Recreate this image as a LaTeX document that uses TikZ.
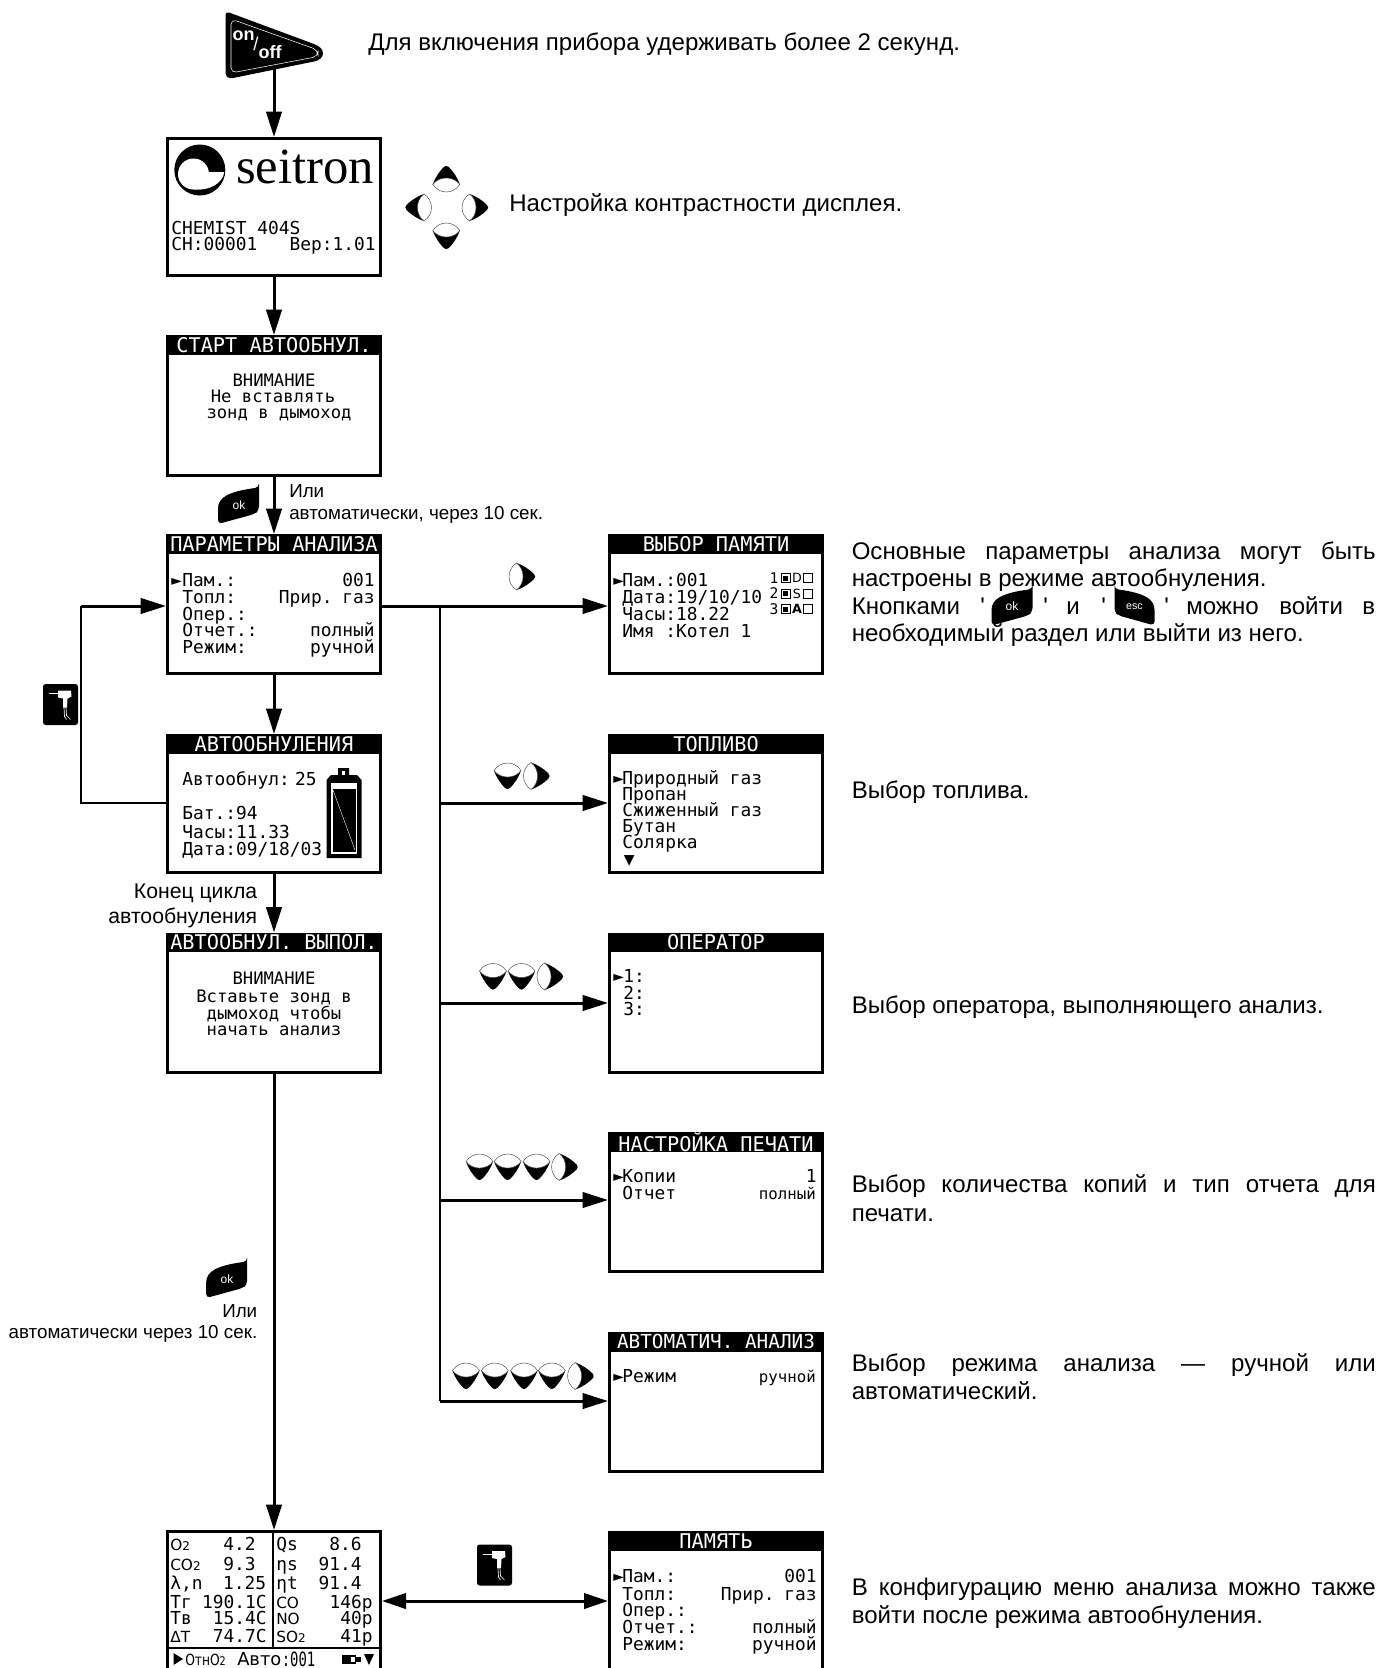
\documentclass[tikz,border=0pt]{standalone}
\usepackage{fontspec}
\setmainfont{Liberation Sans}
\newfontfamily\scr{DejaVu Sans Mono}
\newfontfamily\djs{DejaVu Sans}
\newfontfamily\lsf{Liberation Serif}
\newfontfamily\qf{Liberation Sans}
\usetikzlibrary{arrows.meta,calc}
\tikzset{
  px/.style={x=0.75pt,y=-0.75pt},
  screen/.style={draw=black,fill=white,line width=2.25pt,inner sep=0pt,anchor=north west,minimum width=159.75pt},
  rscreen/.style={draw=black,fill=white,line width=2.25pt,inner sep=0pt,anchor=north west,minimum width=159.75pt},
  titlebar/.style={fill=black,text=white,inner sep=0pt,anchor=north,minimum width=162pt,minimum height=14.5pt,font=\fontsize{15.2}{15}\selectfont\scr},
  rtitlebar/.style={titlebar},
  sl/.style={inner sep=0pt,anchor=west,text height=9.6pt,text depth=0pt,font=\fontsize{13.4}{13}\selectfont\scr},
  sr/.style={sl,anchor=east},
  sc/.style={sl,anchor=center,font=\fontsize{12.9}{13}\selectfont\scr},
  ml/.style={inner sep=0pt,anchor=west,text height=10.5pt,text depth=0pt,font=\fontsize{18.05}{20}\selectfont},
  mr/.style={ml,anchor=east},
  nl/.style={inner sep=0pt,anchor=west,text height=10pt,text depth=0pt,font=\fontsize{14.1}{16}\selectfont},
  nr/.style={nl,anchor=east},
  kl/.style={inner sep=0pt,anchor=east,text height=11pt,text depth=0pt,font=\fontsize{15.9}{18}\selectfont},
  ds/.style={inner sep=0pt,anchor=west,text height=10pt,text depth=0pt,font=\fontsize{11.5}{12}\selectfont\djs},
  arr/.style={line width=2.25pt,-{Triangle[length=19pt,width=11.5pt]}},
  arrb/.style={line width=2.25pt,{Triangle[length=18pt,width=11.5pt]}-{Triangle[length=18pt,width=11.5pt]}},
  thinl/.style={line width=0.85pt},
  rbtn/.pic={
    \fill[black] (-5.5,-13.5) .. controls (2,-11) and (8,-6.5) .. (12,-2.5) .. controls (13.5,-1) and (13.5,1) .. (12,2.5) .. controls (8,6.5) and (2,11) .. (-5.5,13.5) -- cycle;
    \filldraw[fill=white,draw=black!70,line width=0.35pt] (-5.5,-13.5) .. controls (-15.5,-7) and (-15.5,7) .. (-5.5,13.5) .. controls (3.2,7) and (3.2,-7) .. (-5.5,-13.5) -- cycle;
  },
  okbtn/.pic={
    \fill[black,rounded corners=3pt] (20.5,-18) -- (20.5,5) -- (16,8.5) -- (-20.5,18.5) -- (-20.5,7) .. controls (-20.5,-8) and (-10,-14) .. (20.5,-18) -- cycle;
  },
  escbtn/.pic={
    \fill[black,rounded corners=3pt] (-20,-18) -- (-20,5) -- (-16,8.5) -- (20,18.5) -- (20,7) .. controls (20,-8) and (10,-14) .. (-20,-18) -- cycle;
  },
  probe/.pic={
    \fill[black,rounded corners=2pt] (-17.5,-20.5) rectangle (17.5,20.5);
    \fill[white] (-2.5,-14) -- (10.5,-14) -- (11,-8) -- (7,-6) -- (6.5,3) -- (2.5,3) -- (2.5,-6) -- (-2.5,-7) -- cycle;
    \draw[white,line width=0.6pt] (-12,-11) -- (-2,-11);
    \draw[white,line width=0.5pt] (3.5,3) -- (4,12) -- (6,15) (5.5,3) -- (6,11) -- (10,15);
  },
  smsq/.pic={
    \draw[black,line width=0.6pt] (-4.5,-4.5) rectangle (4.5,4.5);
    \fill[black] (-2.5,-2.5) rectangle (2.5,2.5);
  },
  emsq/.pic={
    \draw[black,line width=0.6pt] (-4.5,-4.5) rectangle (4.5,4.5);
  },
}
\newcommand{\SL}[4]{\node[sl] (#1) at (#2,#3) {#4};}
\newcommand{\SR}[4]{\node[sr] (#1) at (#2,#3) {#4};}
\newcommand{\SC}[4]{\node[sc] (#1) at (#2,#3) {#4};}
\newcommand{\ML}[4]{\node[ml] (#1) at (#2,#3) {#4};}
\newcommand{\MR}[4]{\node[mr] (#1) at (#2,#3) {#4};}
\newcommand{\MJ}[4]{\node[ml] (#1) at (#2,#3) {\makebox[393pt][s]{#4}};}
\newcommand{\DS}[4]{\node[ds] (#1) at (#2,#3) {#4};}
\newcommand{\mktri}[2]{\fill[black] (#1-4.5,#2-6) -- (#1+5,#2) -- (#1-4.5,#2+6) -- cycle;}
\begin{document}
\begin{tikzpicture}[px]
\clip (0,0) rectangle (1381,1668);
\fill[white] (0,0) rectangle (1381,1668);

% thin bus and loop
\coordinate (b1) at (440,606);
\coordinate (b2) at (440,803);
\coordinate (b3) at (440,1003);
\coordinate (b4) at (440,1200);
\coordinate (b5) at (440,1401);
\coordinate (l1) at (81,803);
\coordinate (l2) at (81,606);
\coordinate (m1) at (495,1601);

% on/off
\node[inner sep=0pt,minimum size=1pt] (onoff) at (274,67) {};
\fill[black] (229,12.5) -- (314,44) .. controls (326,48) and (326,59) .. (314,61.5) -- (233,78) .. controls (227,79) and (225.5,76) .. (225.5,71) -- (225.5,17) .. controls (225.5,13) and (226.5,11.5) .. (229,12.5) -- cycle;
\draw[white,line width=0.4pt,rounded corners=4pt] (231,19) -- (318,50) -- (318,56.5) -- (231,73) -- cycle;
\node[inner sep=0pt,text=white,font=\fontsize{13.5}{14}\selectfont\bfseries] (on) at (243.5,36) {on};
\node[inner sep=0pt,text=white,font=\fontsize{14}{15}\selectfont] (sl) at (256,44) {/};
\node[inner sep=0pt,text=white,font=\fontsize{13.5}{14}\selectfont\bfseries] (off) at (270,52) {off};

% screens
\node[screen,minimum height=102.75pt] (seit) at (166,137) {};
\node[screen,minimum height=104.25pt] (start) at (166,335) {};
\node[titlebar] (startt) at (274,335) {СТАРТ АВТООБНУЛ.};
\node[screen,minimum height=103.75pt] (par) at (166,534) {};
\node[titlebar] (part) at (274,534) {ПАРАМЕТРЫ АНАЛИЗА};
\node[screen,minimum height=102.75pt] (az) at (166,734) {};
\node[titlebar] (azt) at (274,734) {АВТООБНУЛЕНИЯ};
\node[screen,minimum height=103.75pt] (azd) at (166,932.5) {};
\node[titlebar] (azdt) at (274,932.5) {АВТООБНУЛ. ВЫПОЛ.};
\node[screen,minimum height=104.5pt] (data) at (166,1530) {};

\node[rscreen,minimum height=103.75pt] (vyb) at (608,534) {};
\node[rtitlebar] (vybt) at (716,534) {ВЫБОР ПАМЯТИ};
\node[rscreen,minimum height=102.75pt] (top) at (608,734) {};
\node[rtitlebar] (topt) at (716,734) {ТОПЛИВО};
\node[rscreen,minimum height=103.75pt] (op) at (608,932.5) {};
\node[rtitlebar] (opt) at (716,932.5) {ОПЕРАТОР};
\node[rscreen,minimum height=103.75pt] (pr) at (608,1132) {};
\node[rtitlebar] (prt) at (716,1132) {НАСТРОЙКА ПЕЧАТИ};
\node[rscreen,minimum height=103.75pt] (au) at (608,1332) {};
\node[rtitlebar,font=\fontsize{14.5}{15}\selectfont\scr] (aut) at (716,1332) {АВТОМАТИЧ. АНАЛИЗ};
\node[rscreen,minimum height=104.5pt] (mem) at (608,1531) {};
\node[rtitlebar] (memt) at (716,1531) {ПАМЯТЬ};

% connectors
\draw[arr] (onoff) -- (seit.north);
\draw[arr] (seit.south) -- (start.north);
\draw[arr] (start.south) -- (par.north);
\draw[arr] (par.south) -- (az.north);
\draw[arr] (az.south) -- (azd.north);
\draw[arr] (azd.south) -- (data.north);
\draw[arr] (b1 -| par.east) -- (b1 -| vyb.west);
\draw[thinl] (b1) -- (b5);
\draw[arr] (b2) -- (b2 -| top.west);
\draw[arr] (b3) -- (b3 -| op.west);
\draw[arr] (b4) -- (b4 -| pr.west);
\draw[arr] (b5) -- (b5 -| au.west);
\draw[thinl] (l1 -| az.west) -- (l1) -- (l2);
\draw[arr] (l2) -- (l2 -| par.west);
\draw[arrb] (m1 -| data.east) -- (m1 -| mem.west);

% seitron logo
\fill[black] (199.8,170) circle (25.5);
\fill[white] (193.5,174) circle (15.5);
\fill[white] (208,172) -- (224.2,172) .. controls (223,184) and (208,191) .. (193.5,189.5) -- (193.5,174) -- cycle;
\node[inner sep=0pt,anchor=base west,font=\fontsize{38}{38}\selectfont\lsf] (seitron) at (236,183) {seitron};
\SL{s1a}{171}{228.5}{CHEMIST 404S}
\SL{s1b}{171}{244}{CH:00001}
\SR{s1c}{376}{244}{Вер:1.01}

% start
\SC{s2a}{274}{380}{ВНИМАНИЕ}
\SC{s2b}{273}{396.5}{Не вставлять}
\SC{s2c}{279}{412.5}{зонд в дымоход}

% params
\SL{p0}{171}{580.5}{►}
\SL{p1}{182}{580.5}{Пам.:}
\SL{p2}{182}{597}{Топл:}
\SL{p3}{182}{614}{Опер.:}
\SL{p4}{182}{630.5}{Отчет.:}
\SL{p5}{182}{647}{Режим:}
\SR{p6}{375}{580.5}{001}
\SR{p7}{375}{597}{Прир.\hspace{0.55em}газ}
\SR{p8}{375}{630.5}{полный}
\SR{p9}{375}{647}{ручной}

% autozero
\SL{a1}{182}{779}{Автообнул:\hspace{0.3em}25}
\SL{a2}{182}{813}{Бат.:94}
\SL{a3}{182}{832}{Часы:11.33}
\SL{a4}{182}{849}{Дата:09/18/03}
\fill[black] (326.5,780) -- (331,775) -- (338,775) -- (338,768) -- (349,768) -- (349,775) -- (357,775) -- (361.5,780) -- (361.5,858) -- (326.5,858) -- cycle;
\fill[white] (342,771) rectangle (345,775);
\fill[white] (331,783) rectangle (357,854);
\fill[black] (332.5,789) rectangle (355.5,852);
\draw[white,line width=0.3pt] (333,790) -- (355,850);

% autozero done
\SC{d1}{274}{978}{ВНИМАНИЕ}
\SC{d2}{274}{995.7}{Вставьте зонд в}
\SC{d3}{274}{1013}{дымоход чтобы}
\SC{d4}{274}{1029}{начать анализ}

% memory selection
\SL{v0}{613}{580}{►}
\SL{v1}{622}{580}{Пам.:001}
\SL{v2}{622}{597}{Дата:19/10/10}
\SL{v3}{622}{614.5}{Часы:18.22}
\SL{v4}{622}{630.7}{Имя :Котел 1}
\node[inner sep=0pt,font=\fontsize{11}{12}\selectfont\scr] (i1) at (774,578) {1};
\node[inner sep=0pt,font=\fontsize{11}{12}\selectfont\scr] (i2) at (774,593.5) {2};
\node[inner sep=0pt,font=\fontsize{11}{12}\selectfont\scr] (i3) at (774,609) {3};
\pic at (785.5,578) {smsq};
\pic at (785.5,593.5) {smsq};
\pic at (785.5,609) {smsq};
\node[inner sep=0pt,font=\fontsize{9.5}{12}\selectfont\djs] (iD) at (797,578) {D};
\node[inner sep=0pt,font=\fontsize{9.5}{12}\selectfont\djs] (iS) at (797,593.5) {S};
\node[inner sep=0pt,font=\fontsize{9.5}{12}\selectfont\djs\bfseries] (iA) at (797,609) {A};
\pic at (808,578) {emsq};
\pic at (808,593.5) {emsq};
\pic at (808,609) {emsq};

% fuel
\SL{f0}{613}{778.5}{►}
\SL{f1}{622}{778.5}{Природный газ}
\SL{f2}{622}{794.5}{Пропан}
\SL{f3}{622}{810.5}{Сжиженный газ}
\SL{f4}{622}{826.5}{Бутан}
\SL{f5}{622}{842.5}{Солярка}
\SL{f6}{623.5}{859}{▼}

% operator
\SL{o0}{613}{976.5}{►}
\SL{o1}{623}{976.5}{1:}
\SL{o2}{623}{993}{2:}
\SL{o3}{623}{1009}{3:}

% print
\SL{r0}{613}{1176.5}{►}
\SL{r1}{622}{1176.5}{Копии}
\SL{r2}{622}{1193}{Отчет}
\SR{r3}{817}{1176.5}{1}
\node[sr,font=\fontsize{11.8}{13}\selectfont\scr] (r4) at (816,1193) {полный};

% auto
\SL{u0}{613}{1376.5}{►}
\SL{u1}{622}{1376.5}{Режим}
\node[sr,font=\fontsize{11.8}{13}\selectfont\scr] (u2) at (816,1376.5) {ручной};

% memory
\SL{n0}{613}{1576}{►}
\SL{n1}{622}{1576}{Пам.:}
\SL{n2}{622}{1594}{Топл:}
\SL{n3}{622}{1610}{Опер.:}
\SL{n4}{622}{1626.6}{Отчет.:}
\SL{n5}{622}{1643.7}{Режим:}
\SR{n6}{817}{1576}{001}
\SR{n7}{817}{1594}{Прир.\hspace{0.55em}газ}
\SR{n8}{817}{1626.6}{полный}
\SR{n9}{817}{1643.7}{ручной}

% data panel
\draw[line width=1.2pt] (273,1530) -- (273,1648);
\draw[line width=1.2pt] (166,1648) -- (382,1648);
\DS{g1}{170}{1544}{O\raisebox{-0.1pt}{\fontsize{9}{10}\selectfont 2}}
\DS{g2}{170}{1564}{CO\raisebox{-0.1pt}{\fontsize{9}{10}\selectfont 2}}
\SL{g3}{170}{1583}{λ,n}
\SL{g4}{170}{1602}{Тг}
\SL{g5}{170}{1618}{Тв}
\DS{g6}{170}{1636}{ΔT}
\SR{h1}{256}{1544}{4.2}
\SR{h2}{256}{1564}{9.3}
\SR{h3}{266.5}{1583}{1.25}
\SR{h4}{267}{1602}{190.1C}
\SR{h5}{267}{1618}{15.4C}
\SR{h6}{267}{1636}{74.7C}
\SL{q1}{276}{1544}{Qs}
\SL{q2}{276}{1564}{ηs}
\SL{q3}{276}{1583}{ηt}
\DS{q4}{276}{1602}{CO}
\DS{q5}{276}{1618}{NO}
\DS{q6}{276}{1636}{SO\raisebox{-0.1pt}{\fontsize{9}{10}\selectfont 2}}
\SR{w1}{362}{1544}{8.6}
\SR{w2}{362}{1564}{91.4}
\SR{w3}{362}{1583}{91.4}
\SR{w4}{373}{1602}{146p}
\SR{w5}{373}{1618}{40p}
\SR{w6}{373}{1636}{41p}
\mktri{178}{1659}
\DS{x1}{185}{1659}{\scalebox{0.8}[1]{ОтнО{\fontsize{9}{10}\selectfont 2}}}
\node[ds,font=\fontsize{13.4}{14}\selectfont\djs] (x2) at (237,1659) {Авто};
\node[sl,text height=10.5pt] (x3) at (281.5,1659) {\scalebox{0.78}[1.1]{:001}};
\fill[black] (342,1655) rectangle (356,1664);
\fill[white] (351,1657) rectangle (355,1662);
\fill[black] (356,1657) rectangle (361,1662);
\fill[black] (364,1654) -- (374,1654) -- (369,1665) -- cycle;

% direction icons
\pic[rotate=90] at (446.3,179) {rbtn};
\pic[rotate=180] at (418.5,207.5) {rbtn};
\pic at (475,207.5) {rbtn};
\pic[rotate=-90] at (446.3,236) {rbtn};

\pic at (522,576.5) {rbtn};
\pic[rotate=-90] at (507.5,776) {rbtn};
\pic at (536.5,776) {rbtn};
\pic[rotate=-90] at (493,976.5) {rbtn};
\pic[rotate=-90] at (521.5,976.5) {rbtn};
\pic at (550,976.5) {rbtn};
\pic[rotate=-90] at (479.5,1167) {rbtn};
\pic[rotate=-90] at (507.6,1167) {rbtn};
\pic[rotate=-90] at (536.5,1167) {rbtn};
\pic at (564.6,1167) {rbtn};
\pic[rotate=-90] at (466,1376) {rbtn};
\pic[rotate=-90] at (494.8,1376) {rbtn};
\pic[rotate=-90] at (524,1376) {rbtn};
\pic[rotate=-90] at (551.8,1376) {rbtn};
\pic at (580.6,1376) {rbtn};

% keys
\pic at (238.5,505.5) {okbtn};
\node[inner sep=0pt,text=white,font=\fontsize{9}{10}\selectfont] (ok1) at (239,505) {ok};
\pic at (226.7,1279.5) {okbtn};
\node[inner sep=0pt,text=white,font=\fontsize{9}{10}\selectfont] (ok2) at (227,1279) {ok};
\pic at (1012,607) {okbtn};
\node[inner sep=0pt,text=white,font=\fontsize{9}{10}\selectfont] (ok3) at (1012,606) {ok};
\pic at (1134.5,607) {escbtn};
\node[inner sep=0pt,text=white,font=\fontsize{8}{10}\selectfont] (esc1) at (1134.5,607) {esc};
\pic at (60.5,704.5) {probe};
\pic at (494.5,1565) {probe};

% captions
\ML{c1}{368}{43}{Для включения прибора удерживать более 2 секунд.}
\ML{c2}{509}{204}{Настройка контрастности дисплея.}
\node[nl] (c3) at (289,491) {Или};
\node[nl] (c4) at (289,513) {автоматически, через 10 сек.};
\node[kl] (c5) at (257.5,891.4) {Конец цикла};
\node[kl] (c6) at (257.5,915.7) {автообнуления};
\node[nr] (c7) at (257.5,1311) {Или};
\node[nr] (c8) at (257.5,1332) {автоматически через 10 сек.};
\MJ{c9}{851.5}{552}{Основные параметры анализа могут быть}
\ML{c10}{851.5}{579}{настроены в режиме автообнуления.}
\ML{c11}{851.5}{607}{Кнопками}
\ML{c12}{980}{607}{\qf '}
\ML{c13}{1043}{607}{\qf '}
\ML{c14}{1066}{607}{и}
\ML{c15}{1101}{607}{\qf '}
\ML{c16}{1164}{607}{\qf '}
\ML{c17}{1186}{607}{можно}
\ML{c18}{1279}{607}{войти}
\MR{c19}{1375.5}{607}{в}
\ML{c20}{851.5}{634.3}{необходимый раздел или выйти из него.}
\ML{c21}{851.5}{791.5}{Выбор топлива.}
\ML{c22}{851.5}{1006.7}{Выбор оператора, выполняющего анализ.}
\MJ{c23}{851.5}{1185}{Выбор количества копий и тип отчета для}
\ML{c24}{851.5}{1214.6}{печати.}
\MJ{c25}{851.5}{1364.5}{Выбор режима анализа — ручной или}
\ML{c26}{851.5}{1392.5}{автоматический.}
\MJ{c27}{851.5}{1588}{В конфигурацию меню анализа можно также}
\ML{c28}{851.5}{1616.5}{войти после режима автообнуления.}
\end{tikzpicture}
\end{document}
